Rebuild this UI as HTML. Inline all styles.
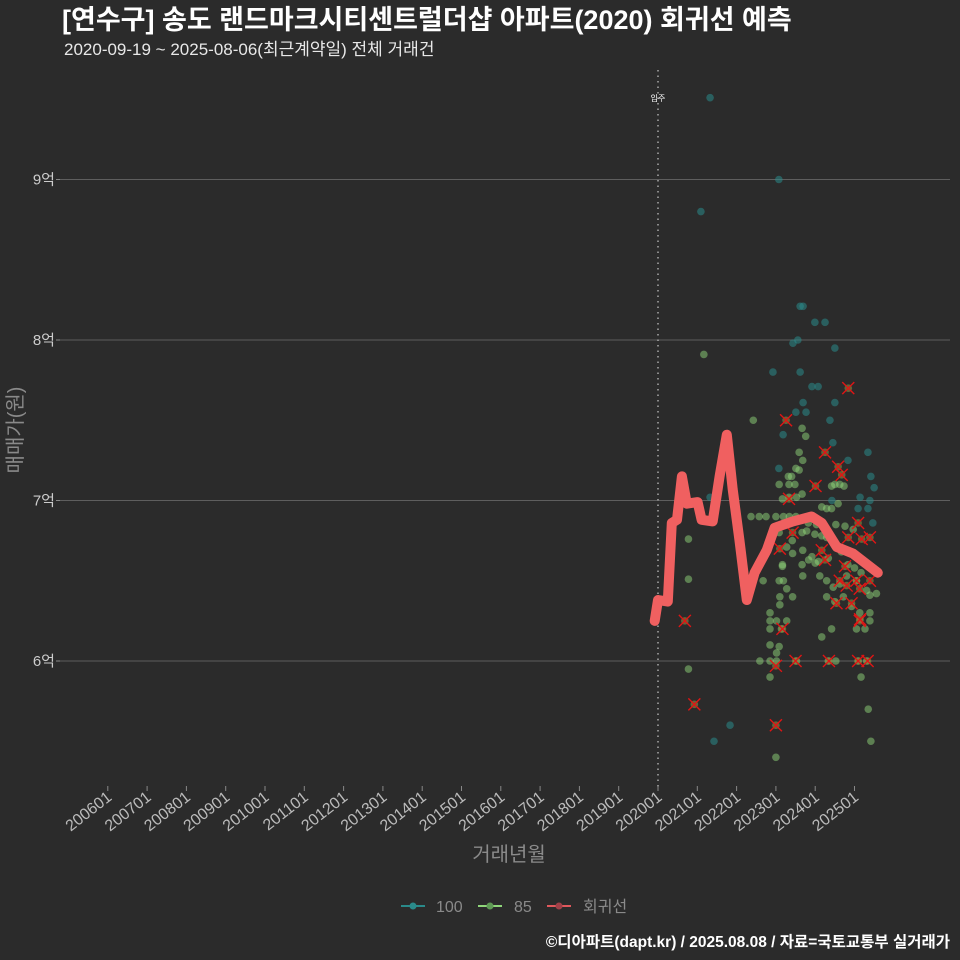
<!DOCTYPE html>
<html><head><meta charset="utf-8"><style>
body{margin:0;background:#2b2b2b;}
svg{display:block;font-family:"Liberation Sans","Noto Sans CJK KR",sans-serif;}
</style></head><body>
<svg id="chart" width="960" height="960" viewBox="0 0 960 960">
<rect width="960" height="960" fill="#2b2b2b"/>
<text x="62" y="29" fill="#ffffff" font-size="27" font-weight="bold">[연수구] 송도 랜드마크시티센트럴더샵 아파트(2020) 회귀선 예측</text>
<text x="64" y="55" fill="#e8e8e8" font-size="17">2020-09-19 ~ 2025-08-06(최근계약일) 전체 거래건</text>
<g id="grid"></g>
<g id="xaxis"></g>
<g id="marks"></g>
<text transform="translate(22,430) rotate(-90)" text-anchor="middle" fill="#8a8a8a" font-size="20">매매가(원)</text>
<text x="509" y="861" text-anchor="middle" fill="#8a8a8a" font-size="20">거래년월</text>
<g>
<g><line x1="401" y1="906" x2="425" y2="906" stroke="#2a8a8a" stroke-width="2"/><circle cx="413" cy="906" r="3.5" fill="#2a8a8a"/><text x="436" y="912" fill="#8a8a8a" font-size="16">100</text></g>
<g><line x1="478" y1="906" x2="502" y2="906" stroke="#8fd67a" stroke-width="2"/><circle cx="490" cy="906" r="3.5" fill="#5f9a55"/><text x="514" y="912" fill="#8a8a8a" font-size="16">85</text></g>
<g><line x1="547" y1="906" x2="571" y2="906" stroke="#e0585c" stroke-width="2"/><circle cx="559" cy="906" r="3.5" fill="#a04048"/><text x="583" y="912" fill="#8a8a8a" font-size="16">회귀선</text></g>
</g>
<text x="950" y="947" text-anchor="end" fill="#ffffff" font-size="15.5" font-weight="bold">©디아파트(dapt.kr) / 2025.08.08 / 자료=국토교통부 실거래가</text>
</svg>
<script>
// months since 2020-01, price in 만원
const yTicks=[60000,70000,80000,90000];
const yTickLabels=['6억','7억','8억','9억'];
const xTickYears=[2006,2007,2008,2009,2010,2011,2012,2013,2014,2015,2016,2017,2018,2019,2020,2021,2022,2023,2024,2025];
const moveInMonth=0;
const regMonths=[-1,0,3,4.2,5.8,7.3,8.8,12.1,13.3,16.7,18.8,21,22.8,24.9,27.1,29.5,33.2,35.6,41.2,46.9,50,54.6,59.5,67.1];
const regPrices=[62500,63800,63700,68600,68800,71500,69800,69900,68800,68700,71500,74100,70700,67500,63800,65500,66900,68300,68700,69000,68600,67100,66700,65500];
const m100=[15.9,36.9,13.1,43.4,44.3,47.9,51,41.2,42.7,43.4,35.1,54,47,48.9,44.3,54,42.1,45.2,52.5,38.2,53.4,64.1,58,36.9,65,66,15.9,61.7,64.7,61.1,64.1,53.1,65.6,22,17.1];
const p100=[95100,90000,88000,82100,82100,81100,81100,79800,80000,78000,78000,79500,77100,77100,76100,76100,75500,75500,75000,74100,73600,73000,72500,72000,71500,70800,70200,70200,70000,69500,69500,70000,68600,56000,55000];
const m85=[29.1,44,45.1,43.1,44.2,42.1,43.1,39.8,40.8,41.8,40,37,55.5,56.8,54,53,44,42.3,38,40,50,51.5,53,55,30.9,33,36,38.3,40.1,42.1,45.9,48.4,45.4,47.9,50,51.5,54.3,57.1,59.6,37,44,41,39.3,41.1,44.2,44,44.2,38,38,32.1,37,38.3,39.3,37.2,37.2,41.1,49.4,51.5,53.5,55.5,57.6,60.6,63.7,64.7,66.7,51.5,54,56.6,59.1,61.6,64.7,64.7,34.2,34.2,36.2,39.3,34.2,37.7,53,50,60.6,63.2,34.2,37,36.2,31.1,34.2,36.2,42.3,52,54.3,61.1,63.7,34.2,62,64.2,65,9.3,9.3,9.3,36,14,28.4,47,49,52,56,58,60,62,46,48];
const p85=[75000,74500,74000,73000,72500,72000,71900,71500,71500,71000,71000,71000,71000,70900,71000,70900,70400,70200,70100,70200,69600,69500,69500,69800,69000,69000,69000,69000,69000,69000,68600,68500,68100,67900,67800,67700,68500,68400,68200,68000,68000,67500,67100,66700,66900,66000,65300,66000,65900,65000,65000,65000,64500,64000,63500,64000,65300,65000,64600,64800,65300,65000,64400,64100,64200,64000,63700,64000,63400,63000,63000,62500,63000,62500,62500,62500,62000,62000,62000,61500,62000,62000,61000,60900,60500,60000,60000,60000,60000,60000,60000,60000,60000,59000,59000,57000,55000,67600,65100,59500,54000,79100,69000,66500,66200,66400,66800,66000,65800,65500,66300,66100];
const mX=[39.1,58.1,51,55,56.1,48.1,40,41.1,37.2,61.1,58.1,62.2,64.7,50,51,57.1,55.5,57.6,60.6,61.6,64.7,54.5,59.1,61.6,38,36,42,52.2,61.1,64,8.2,11.1,36,61.7];
const pX=[75000,77000,73000,72100,71600,70900,70100,68000,67000,68600,67700,67600,67700,66900,66300,65900,65000,64700,65000,64500,65000,63600,63600,62500,62000,59700,60000,60000,60000,60000,62500,57300,56000,62600];

const NS='http://www.w3.org/2000/svg';
const xScale=m=>658+m*3.275;
const yScale=p=>661-(p-60000)/10000*160.5;
const yrX=y=>xScale((y-2020)*12);
function mk(tag,attrs,parent){const e=document.createElementNS(NS,tag);for(const k in attrs)e.setAttribute(k,attrs[k]);parent.appendChild(e);return e;}
const grid=document.getElementById('grid'),xa=document.getElementById('xaxis'),marks=document.getElementById('marks');
yTicks.forEach((v,i)=>{
 const y=yScale(v);
 const l=mk('line',{x1:60,x2:950,y1:y,y2:y,stroke:'#5e5e5e','stroke-width':1},grid);
 
 
 const tk=mk('line',{x1:56,x2:60,y1:y,y2:y,stroke:'#888'},grid);
 
 
 const t=mk('text',{x:55,y:y+5,'text-anchor':'end',fill:'#cccccc','font-size':15},grid);
 t.textContent=yTickLabels[i];
 
 
});
xTickYears.forEach(yr=>{
 const x=yrX(yr);
 const tk=mk('line',{x1:x,x2:x,y1:786,y2:791,stroke:'#888'},xa);
 
 
 const t=mk('text',{transform:`translate(${x+5},799) rotate(-38)`,'text-anchor':'end',fill:'#bbbbbb','font-size':16},xa);
 t.textContent=yr+'01';
 
 
});
const mvx=xScale(moveInMonth);
const mv=mk('line',{x1:mvx,x2:mvx,y1:70,y2:790,stroke:'#aaaaaa','stroke-width':1.5,'stroke-dasharray':'1.5 4'},grid);


const mvt=mk('text',{x:mvx,y:101,'text-anchor':'middle',fill:'#ffffff','font-size':8},grid);
mvt.textContent='입주';


m100.forEach((m,i)=>{
 const c=mk('circle',{cx:xScale(m),cy:yScale(p100[i]),r:3.8,fill:'#2a8a8a','fill-opacity':0.55},marks);
 
 
});
m85.forEach((m,i)=>{
 const c=mk('circle',{cx:xScale(m),cy:yScale(p85[i]),r:3.8,fill:'#8fd67a','fill-opacity':0.5},marks);
 
 
});
mX.forEach((m,i)=>{
 const x=xScale(m),y=yScale(pX[i]);
 const c=mk('circle',{cx:x,cy:y,r:3.8,fill:'#8a8a40','fill-opacity':0.6},marks);
 
 
 const p=mk('path',{d:`M${x-6},${y-6}L${x+6},${y+6}M${x+6},${y-6}L${x-6},${y+6}`,stroke:'#e01515','stroke-width':1.4},marks);
 
 
});
const d=regMonths.map((m,i)=>(i?'L':'M')+xScale(m).toFixed(1)+','+yScale(regPrices[i]).toFixed(1)).join('');
const rl=mk('path',{d:d,fill:'none',stroke:'#f06060','stroke-width':10,'stroke-linejoin':'round','stroke-linecap':'round'},marks);


</script>
</body></html>
